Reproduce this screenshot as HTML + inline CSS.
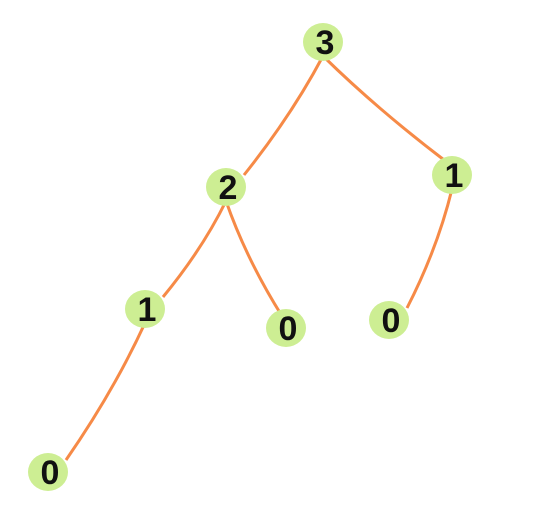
<!DOCTYPE html>
<html><head><meta charset="utf-8"><style>
html,body{margin:0;padding:0;background:#fff;width:534px;height:526px;overflow:hidden}
text{font-family:"Liberation Sans",sans-serif;font-weight:bold;font-size:34px;fill:#111}
</style></head><body>
<svg id="tree" width="534" height="526" viewBox="0 0 534 526">
<g id="edges"></g>
<g id="nodes"></g>
</svg>
<script>
const labels=["3","2","1","1","0","0","0"];
const nodeX=[323,226,452,145,286,389,48];
const nodeY=[42,187,175,309,328,320,472];
const parents=[-1,0,0,1,1,2,3];
const ns="http://www.w3.org/2000/svg";
const eg=document.getElementById("edges"),ng=document.getElementById("nodes");
for(let i=0;i<labels.length;i++){
  const p=parents[i];
  if(p<0)continue;
  const x1=nodeX[p],y1=nodeY[p]+14,x2=nodeX[i]+(nodeX[i]<nodeX[p]?18:-4),y2=nodeY[i]-12;
  const mx=(x1+x2)/2+(x2<x1?8:-8),my=(y1+y2)/2;
  const path=document.createElementNS(ns,"path");
  path.setAttribute("d",`M${x1} ${y1} Q${mx} ${my} ${x2} ${y2}`);
  path.setAttribute("fill","none");path.setAttribute("stroke","#f68a47");path.setAttribute("stroke-width","3");
  
  
  eg.appendChild(path);
}
for(let i=0;i<labels.length;i++){
  const g=document.createElementNS(ns,"g");
  
  
  const e=document.createElementNS(ns,"ellipse");
  e.setAttribute("cx",nodeX[i]);e.setAttribute("cy",nodeY[i]);
  e.setAttribute("rx",20);e.setAttribute("ry",19);e.setAttribute("fill","#cdee93");
  g.appendChild(e);
  const t=document.createElementNS(ns,"text");
  t.setAttribute("x",nodeX[i]+2);t.setAttribute("y",nodeY[i]+12);t.setAttribute("text-anchor","middle");
  t.textContent=labels[i];
  
  
  g.appendChild(t);
  ng.appendChild(g);
}
</script>
</body></html>
